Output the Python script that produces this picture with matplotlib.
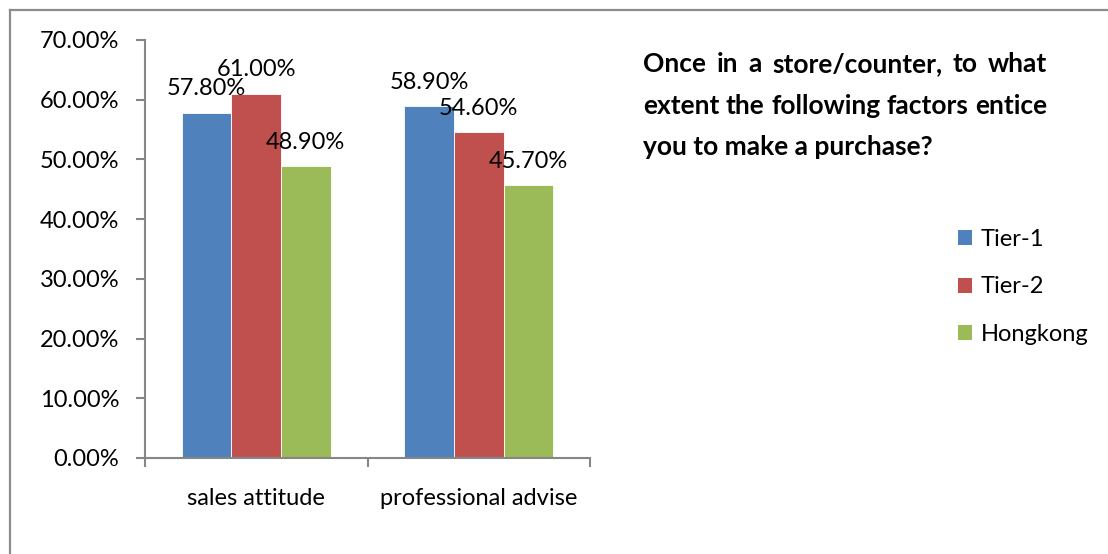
import numpy as np
import matplotlib.pyplot as plt
from matplotlib.lines import Line2D
from matplotlib.patches import Patch

categories = ['sales attitude', 'professional advise']
series_names = ['Tier-1', 'Tier-2', 'Hongkong']
tier1 = [57.8, 58.9]
tier2 = [61.0, 54.6]
hongkong = [48.9, 45.7]
yticks = [0, 10, 20, 30, 40, 50, 60, 70]
title_lines = ['Once in a store/counter, to what',
               'extent the following factors entice',
               'you to make a purchase?']

colors = ['#4f81bd', '#c0504d', '#9bbb59']
axis_grey = '#868686'
fs = 17
title_fs = 19

plt.rcParams['font.family'] = ['Lato', 'DejaVu Sans']

W, H = 1108, 554
fig = plt.figure(figsize=(W / 100, H / 100), dpi=100)
ax = fig.add_axes([145 / W, 1 - 458 / H, 445 / W, 418 / H])

values = [tier1, tier2, hongkong]
x = np.arange(len(categories)) + 0.5
width = 0.2225
for i, (name, vals) in enumerate(zip(series_names, values)):
    pos = x + (i - 1) * width
    bars = ax.bar(pos, vals, width, color=colors[i], label=name,
                  edgecolor='white', linewidth=0.6, zorder=2)
    for b, v in zip(bars, vals):
        ax.annotate(f'{v:.2f}%', (b.get_x() + b.get_width() / 2, v),
                    xytext=(0, 12.5), textcoords='offset points',
                    ha='center', va='baseline', fontsize=fs, zorder=3)

ax.set_xlim(0, 2)
ax.set_ylim(0, 70)
ax.set_yticks(yticks)
ax.set_yticklabels([f'{t:.2f}%' for t in yticks], fontsize=fs)
ax.set_xticks([0, 1, 2])
ax.set_xticklabels([])
ax.tick_params(axis='both', direction='out', length=6.5, width=1.5, color=axis_grey)
ax.tick_params(axis='y', pad=12)
for i, c in enumerate(categories):
    ax.text(x[i], -6.8, c, ha='center', va='center', fontsize=fs)
for s in ['top', 'right']:
    ax.spines[s].set_visible(False)
for s in ['left', 'bottom']:
    ax.spines[s].set_color(axis_grey)
    ax.spines[s].set_linewidth(1.5)

# title, justified by hand like the original text box
fig.canvas.draw()
renderer = fig.canvas.get_renderer()
x0, x1 = 643 / W, 1047 / W
line_y = [64, 106, 147]
for li, line in enumerate(title_lines):
    yy = 1 - line_y[li] / H
    words = line.split(' ')
    if li == len(title_lines) - 1:
        fig.text(x0, yy, line, fontsize=title_fs, fontweight='bold', va='center')
        continue
    txts = [fig.text(0, yy, w, fontsize=title_fs, fontweight='bold', va='center') for w in words]
    widths = [t.get_window_extent(renderer).width / W for t in txts]
    gap = max((x1 - x0 - sum(widths)) / (len(words) - 1), 4 / W)
    cur = x0
    for t, w in zip(txts, widths):
        t.set_x(cur)
        cur += w + gap

handles = [Patch(facecolor=c, edgecolor='none') for c in colors]
fig.legend(handles, series_names, loc='upper left', bbox_to_anchor=(958 / W, 1 - 229 / H),
           frameon=False, fontsize=fs, handlelength=0.6, handleheight=0.6,
           handletextpad=0.35, labelspacing=1.12, borderpad=0, borderaxespad=0)

# outer chart border
fig.add_artist(Line2D([10 / W, 10 / W], [0, 1 - 10 / H], color='#8c8c8c', lw=1.6))
fig.add_artist(Line2D([10 / W, 1], [1 - 10 / H, 1 - 10 / H], color='#8c8c8c', lw=1.6))

fig.savefig('out.png', dpi=100, facecolor='white')
